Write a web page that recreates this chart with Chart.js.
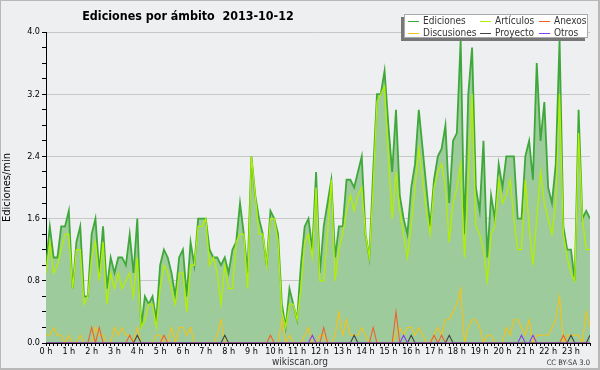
<!DOCTYPE html>
<html>
<head>
<meta charset="utf-8">
<script src="https://cdn.jsdelivr.net/npm/chart.js@4.4.0/dist/chart.umd.min.js"></script>
<style>
  html, body { margin: 0; padding: 0; background: #eeeff1; }
  canvas { display: block; }
</style>
</head>
<body>
<canvas id="myChart" width="600" height="370"></canvas>
<script>
// one value every 10 minutes, 144 bins for the day (edits per minute)
const ediciones = [
  1.0,1.5,1.1,1.1,1.5,1.5,1.7,0.7,1.3,1.5,0.6,0.6,1.4,1.6,0.9,1.5,0.7,1.1,0.9,1.1,1.1,1.0,1.4,0.9,
  1.6,0.2,0.6,0.5,0.6,0.3,1.0,1.2,1.1,0.9,0.6,1.1,1.2,0.6,1.3,1.0,1.6,1.6,1.6,1.2,1.1,1.1,1.0,1.1,
  0.9,1.2,1.3,1.8,1.4,0.9,2.4,1.9,1.6,1.4,1.0,1.7,1.6,1.4,0.5,0.2,0.7,0.5,0.3,1.0,1.5,1.6,1.2,2.2,
  0.9,1.5,1.8,2.1,1.1,1.5,1.5,2.1,2.1,2.0,2.2,2.4,1.4,1.1,2.2,3.2,3.2,3.5,2.8,2.2,3.0,1.9,1.6,1.4,
  2.0,2.3,3.0,2.5,2.0,1.5,2.1,2.4,2.5,2.8,1.8,2.6,2.7,3.9,1.4,3.2,3.8,2.0,1.7,2.6,1.1,1.9,1.6,2.3,
  2.0,2.4,2.4,2.4,1.6,1.6,2.4,2.6,2.1,3.6,2.6,3.1,2.0,1.8,2.3,3.9,1.5,1.2,1.2,0.8,3.0,1.6,1.7,1.6
];
const articulos = [
  0.9,1.3,0.9,1.0,1.2,1.4,1.4,0.7,1.2,1.2,0.5,0.6,1.1,1.3,0.8,1.3,0.5,0.9,0.7,0.9,0.7,0.8,0.9,0.6,
  1.1,0.2,0.3,0.5,0.5,0.2,0.7,1.0,0.9,0.7,0.5,0.9,0.9,0.4,1.0,1.0,1.5,1.5,1.6,1.0,1.1,0.9,0.5,1.0,
  0.7,0.7,1.3,1.4,1.4,0.7,2.4,1.9,1.4,1.4,1.0,1.6,1.6,1.3,0.4,0.2,0.5,0.5,0.3,0.7,1.3,1.4,1.1,2.0,
  0.8,0.8,1.4,2.1,0.8,1.2,1.4,1.7,1.9,1.7,1.9,2.0,1.4,1.1,2.0,3.1,3.2,3.3,2.4,1.6,2.2,1.7,1.4,1.1,
  1.5,2.0,2.5,2.1,1.7,1.4,2.0,2.2,2.3,2.0,1.3,1.8,2.0,2.3,1.1,2.1,3.2,1.5,1.4,1.2,0.8,1.4,1.5,2.1,
  1.8,1.9,2.1,1.6,1.2,1.2,2.1,1.5,1.0,1.6,2.2,1.8,1.6,1.4,1.8,3.2,1.4,1.1,0.9,0.8,2.7,1.6,1.2,1.2
];
const anexos = [
  0,0,0,0,0,0,0,0,0,0,0,0,0.2,0,0.2,0,0,0,0,0,0,0,0.1,0,
  0,0,0,0,0,0,0,0.1,0,0,0,0,0,0,0,0,0,0,0,0,0,0,0,0,
  0,0,0,0,0,0,0,0,0,0,0,0.1,0,0,0,0,0,0,0,0,0,0,0,0,
  0,0.2,0,0,0,0,0,0,0,0,0,0,0,0,0.2,0,0,0,0,0,0.4,0,0,0,
  0,0,0,0,0,0,0.1,0,0.1,0,0,0,0,0,0,0,0,0,0,0,0,0,0,0,
  0,0,0,0,0,0,0,0,0,0,0,0,0,0,0,0,0.1,0,0,0,0,0,0,0
];
const discusiones = [
  0.1,0.1,0.2,0.1,0.1,0,0.1,0,0,0.1,0,0,0,0.2,0.1,0.1,0,0,0.2,0.1,0.2,0.1,0.1,0,
  0.2,0,0,0,0,0.1,0.1,0,0,0.2,0,0.2,0.2,0.1,0.2,0,0,0,0,0,0,0.1,0.3,0,
  0,0,0,0,0,0,0,0,0,0,0,0,0,0,0.3,0,0.1,0,0,0,0.1,0.2,0,0,
  0.1,0.1,0,0,0.1,0.4,0.1,0.3,0.1,0.1,0.1,0.2,0.1,0,0,0,0,0,0,0,0.1,0.2,0.1,0.2,
  0.2,0.1,0.2,0.1,0,0,0.1,0.2,0.1,0.3,0.3,0.4,0.5,0.7,0,0.2,0.3,0.3,0.2,0,0.1,0.1,0,0,
  0,0.2,0.1,0.3,0.3,0.2,0.1,0.3,0,0.1,0.1,0.1,0.1,0.2,0.3,0.6,0,0.1,0.1,0.1,0.1,0,0.4,0.2
];
const proyecto = [
  0,0,0,0,0,0,0,0,0,0,0,0,0,0,0,0,0,0,0,0,0,0,0,0,
  0.1,0,0,0,0,0,0,0,0,0,0,0,0,0,0,0,0,0,0,0,0,0,0,0.1,
  0,0,0,0,0,0,0,0,0,0,0,0,0,0,0,0,0,0,0,0,0,0,0,0,
  0,0,0,0,0,0,0,0,0,0.1,0,0,0,0,0,0,0,0,0,0,0,0,0,0,
  0.1,0,0,0,0,0,0,0,0,0,0.1,0,0,0,0,0,0,0,0,0,0,0,0,0,
  0,0,0,0,0,0,0,0,0,0,0,0,0,0,0,0,0,0,0.1,0,0,0,0,0.1
];
const otros = [
  0,0,0,0,0,0,0,0,0,0,0,0,0,0,0,0,0,0,0,0,0,0,0,0,
  0,0,0,0,0,0,0,0,0,0,0,0,0,0,0,0,0,0,0,0,0,0,0,0,
  0,0,0,0,0,0,0,0,0,0,0,0,0,0,0,0,0,0,0,0,0,0,0.1,0,
  0,0,0,0,0,0,0,0,0,0,0,0,0,0,0,0,0,0,0,0,0,0,0.1,0,
  0,0,0,0,0,0,0,0,0,0,0,0,0,0,0,0,0,0,0,0,0,0,0,0,
  0,0,0,0,0,0.1,0,0,0.1,0,0,0,0,0,0,0,0,0,0,0,0,0,0,0
];
const hourLabels = [
  "0 h","1 h","2 h","3 h","4 h","5 h","6 h","7 h","8 h","9 h","10 h","11 h",
  "12 h","13 h","14 h","15 h","16 h","17 h","18 h","19 h","20 h","21 h","22 h","23 h"
];
const yStep = 0.2;
const yLabelStep = 0.8;

const fontFam = '"DejaVu Sans Condensed", "Liberation Sans Narrow", "Liberation Sans", sans-serif';

function points(values) {
  return values.map((v, i) => ({ x: i, y: v }));
}

function isLabelTick(v) {
  const r = v / yLabelStep;
  return Math.abs(r - Math.round(r)) < 1e-6;
}

const background = {
  id: "background",
  beforeDraw(chart) {
    const c = chart.ctx;
    c.save();
    c.fillStyle = "#eeeff1";
    c.fillRect(0, 0, chart.width, chart.height);
    c.fillStyle = "#b8b8b8";
    c.fillRect(0, 0, chart.width, 1);
    c.fillRect(0, 0, 1, chart.height);
    c.fillRect(chart.width - 2, 0, 2, chart.height);
    c.fillRect(0, chart.height - 2, chart.width, 2);
    c.restore();
  }
};

const texts = {
  id: "texts",
  afterDraw(chart) {
    const c = chart.ctx;
    c.save();
    c.fillStyle = "#000";
    c.textBaseline = "alphabetic";
    c.textAlign = "center";
    c.font = "bold 12.4px " + fontFam;
    c.fillText("Ediciones por ámbito  2013-10-12", 188, 20);
    c.font = "10px " + fontFam;
    c.fillStyle = "#333";
    c.fillText("wikiscan.org", 300, 365);
    c.textAlign = "right";
    c.font = "7.5px " + fontFam;
    c.fillText("CC BY-SA 3.0", 590, 365);

    // legend box with shadow
    c.fillStyle = "#777";
    c.fillRect(401, 17, 184, 24);
    c.fillStyle = "#fff";
    c.fillRect(404, 14, 184, 24);
    c.strokeStyle = "#aaa";
    c.lineWidth = 1;
    c.strokeRect(404.5, 14.5, 183, 23);
    const cols = [408, 480, 539];
    const rows = [21, 33];
    c.font = "10px " + fontFam;
    c.textAlign = "left";
    c.textBaseline = "middle";
    chart.data.datasets.forEach((ds, i) => {
      const x = cols[i % 3];
      const y = rows[Math.floor(i / 3)];
      c.strokeStyle = ds.borderColor;
      c.beginPath();
      c.moveTo(x, y + 0.5);
      c.lineTo(x + 11, y + 0.5);
      c.stroke();
      c.fillStyle = "#333";
      c.fillText(ds.label, x + 15, y);
    });
    c.restore();
  }
};

const ctx = document.getElementById("myChart");

new Chart(ctx, {
  type: "line",
  data: {
    datasets: [
      { label: "Ediciones", data: points(ediciones), borderColor: "#3fa83a", backgroundColor: "#9ecb9b", fill: "origin", borderWidth: 1.8, order: 6 },
      { label: "Artículos", data: points(articulos), borderColor: "#b2f000", borderWidth: 1.3, fill: false, order: 5 },
      { label: "Anexos", data: points(anexos), borderColor: "#f0622a", borderWidth: 1.1, fill: false, order: 3 },
      { label: "Discusiones", data: points(discusiones), borderColor: "#f2c318", borderWidth: 1.1, fill: false, order: 4 },
      { label: "Proyecto", data: points(proyecto), borderColor: "#444444", borderWidth: 1.1, fill: false, order: 2 },
      { label: "Otros", data: points(otros), borderColor: "#8a3cf0", borderWidth: 1.1, fill: false, order: 1 }
    ]
  },
  options: {
    responsive: false,
    animation: false,
    layout: { padding: { top: 32, right: 10, left: 0, bottom: 0 } },
    elements: { point: { radius: 0 }, line: { tension: 0 } },
    plugins: {
      legend: { display: false },
      tooltip: { enabled: false }
    },
    scales: {
      x: {
        type: "linear",
        min: 0,
        max: 143,
        afterFit: (s) => { s.height = 27; },
        border: { color: "#000", width: 1 },
        grid: { drawOnChartArea: false, tickColor: "#000", tickLength: 3 },
        ticks: {
          stepSize: 1,
          autoSkip: false,
          maxRotation: 0,
          padding: 0,
          color: "#000",
          font: { size: 9, family: fontFam },
          callback: (v) => (v % 6 === 0 ? hourLabels[v / 6] : "")
        }
      },
      y: {
        min: 0,
        max: 4,
        afterFit: (s) => { s.width = 46; },
        border: { color: "#000", width: 1 },
        grid: {
          color: (c) => (c.tick && c.tick.value > 0 && isLabelTick(c.tick.value) ? "#c8c8c8" : "rgba(0,0,0,0)"),
          tickColor: "#000",
          tickLength: 4
        },
        ticks: {
          stepSize: yStep,
          autoSkip: false,
          padding: 2,
          color: "#000",
          font: { size: 9, family: fontFam },
          callback: (v) => (isLabelTick(v) ? v.toFixed(1) : "")
        },
        title: {
          display: true,
          text: "Ediciones/min",
          color: "#000",
          padding: 1,
          font: { size: 11, family: fontFam }
        }
      }
    }
  },
  plugins: [background, texts]
});
</script>
</body>
</html>
